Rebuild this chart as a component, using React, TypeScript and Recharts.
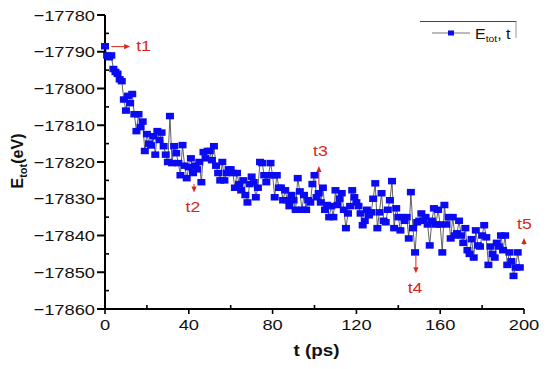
import React from 'react';
import { LineChart, Line, XAxis, YAxis, ReferenceLine, ReferenceDot, Legend } from 'recharts';

const timePs = [
  0, 1, 2, 3, 4, 5, 6, 7, 8, 9,
  10, 11, 12, 13, 14, 15, 16, 17, 18, 19,
  20, 21, 22, 23, 24, 25, 26, 27, 28, 29,
  30, 31, 32, 33, 34, 35, 36, 37, 38, 39,
  40, 41, 42, 43, 44, 45, 46, 47, 48, 49,
  50, 51, 52, 53, 54, 55, 56, 57, 58, 59,
  60, 61, 62, 63, 64, 65, 66, 67, 68, 69,
  70, 71, 72, 73, 74, 75, 76, 77, 78, 79,
  80, 81, 82, 83, 84, 85, 86, 87, 88, 89,
  90, 91, 92, 93, 94, 95, 96, 97, 98, 99,
  100, 101, 102, 103, 104, 105, 106, 107, 108, 109,
  110, 111, 112, 113, 114, 115, 116, 117, 118, 119,
  120, 121, 122, 123, 124, 125, 126, 127, 128, 129,
  130, 131, 132, 133, 134, 135, 136, 137, 138, 139,
  140, 141, 142, 143, 144, 145, 146, 147, 148, 149,
  150, 151, 152, 153, 154, 155, 156, 157, 158, 159,
  160, 161, 162, 163, 164, 165, 166, 167, 168, 169,
  170, 171, 172, 173, 174, 175, 176, 177, 178, 179,
  180, 181, 182, 183, 184, 185, 186, 187, 188, 189,
  190, 191, 192, 193, 194, 195, 196, 197, 198,
];

const totalEnergy = [
  -17788.5, -17791, -17791.5, -17791, -17794.7, -17795.5, -17796, -17797.5, -17798, -17803,
  -17806, -17802, -17804, -17801.5, -17807, -17811.6, -17807, -17810.5, -17809, -17817,
  -17812.4, -17815, -17815.5, -17813, -17818, -17811.6, -17814, -17812, -17815.7, -17818,
  -17820, -17807.5, -17820.3, -17815.7, -17817.6, -17820.3, -17823.6, -17815.4, -17821, -17824.4,
  -17821.4, -17819, -17823, -17821, -17822, -17820, -17825.5, -17817.3, -17819, -17817,
  -17817, -17819.5, -17815.7, -17821, -17823, -17825, -17820, -17825, -17823, -17822,
  -17822, -17823, -17827, -17823, -17826, -17827.7, -17825, -17829, -17831, -17826,
  -17824, -17825.5, -17829.6, -17827, -17820, -17820.3, -17823.6, -17825.5, -17823.6, -17820.3,
  -17823.6, -17829.6, -17823.6, -17827, -17827, -17830.4, -17827.7, -17830.4, -17832, -17829,
  -17830.4, -17833, -17824.4, -17828, -17833, -17829, -17833, -17830.4, -17831, -17826,
  -17823.6, -17829.6, -17828.5, -17831, -17827, -17833, -17831.7, -17835, -17832, -17835,
  -17827.7, -17831.7, -17830, -17828.5, -17833, -17838, -17834, -17832, -17827.7, -17829.6,
  -17831, -17832, -17834, -17837.2, -17836, -17833, -17834.5, -17833.7, -17830, -17825.8,
  -17838, -17833.7, -17828.5, -17836, -17836.4, -17833, -17830.4, -17825.2, -17838, -17832.6,
  -17835, -17838.6, -17835, -17836, -17835, -17840.8, -17828.2, -17838, -17844.6, -17836.4,
  -17836, -17834, -17836, -17835, -17837, -17842.7, -17836, -17832.6, -17837, -17833,
  -17837, -17844.6, -17831.7, -17837, -17835, -17840.8, -17835, -17840, -17839.4, -17836,
  -17840, -17842, -17838, -17844, -17845, -17841, -17846, -17838.6, -17842.7, -17843,
  -17840, -17837.2, -17840.5, -17848, -17843, -17845, -17846, -17842, -17843, -17840,
  -17844, -17840, -17848, -17844.6, -17847, -17851, -17848.7, -17844.6, -17848.7,
];

const xTicks = [0, 20, 40, 60, 80, 100, 120, 140, 160, 180, 200];
const yTicks = [
  -17860, -17855, -17850, -17845, -17840, -17835, -17830, -17825, -17820,
  -17815, -17810, -17805, -17800, -17795, -17790, -17785, -17780,
];

const annotLabel = ['t1', 't2', 't3', 't4', 't5'];
const arrowT0 = [3, 42.5, 102.1, 148.4, 200];
const arrowE0 = [-17788.6, -17826, -17826.3, -17845.5, -17842.6];
const arrowT1 = [12, 42.5, 102.1, 148.4, 200];
const arrowE1 = [-17788.6, -17828.3, -17821.1, -17850.3, -17840.7];
const labelT = [18.4, 42, 102.8, 148, 200.2];
const labelE = [-17789.7, -17833.6, -17818.4, -17855.6, -17838.3];

const data = timePs.map((t, i) => ({ t, e: totalEnergy[i] }));

const RED = '#d9261c';
const BLUE = '#0b0bf2';
const FONT = '"Liberation Sans", Arial, Helvetica, sans-serif';
const SX = 1.18;

const XTick = (props: any) => {
  const { x, y, payload } = props;
  const v = payload.value;
  const ay = y - 5;
  const major = v % 40 === 0;
  return (
    <g>
      {major ? (
        <line x1={x} x2={x} y1={ay} y2={ay + 5} stroke="#000" strokeWidth={1.6} />
      ) : (
        <line x1={x} x2={x} y1={ay} y2={ay - 4} stroke="#000" strokeWidth={1.6} />
      )}
      {major && (
        <text
          transform={`translate(${x},${ay + 21}) scale(${SX},1)`}
          textAnchor="middle"
          fontSize={15.5}
          fontFamily={FONT}
          fill="#111"
        >
          {v}
        </text>
      )}
    </g>
  );
};

const YTick = (props: any) => {
  const { x, y, payload } = props;
  const v = payload.value;
  const ax = x + 10;
  const major = v % 10 === 0;
  return (
    <g>
      {major ? (
        <line x1={ax - 8} x2={ax} y1={y} y2={y} stroke="#000" strokeWidth={2} />
      ) : (
        <line x1={ax} x2={ax + 4} y1={y} y2={y} stroke="#000" strokeWidth={1.6} />
      )}
      {major && (
        <text
          transform={`translate(${ax - 10},${y + 5.6}) scale(${SX},1)`}
          textAnchor="end"
          fontSize={15.5}
          fontFamily={FONT}
          fill="#111"
        >
          {'\u2212' + Math.abs(v)}
        </text>
      )}
    </g>
  );
};

const renderDot = (p: any) => {
  const { cx, cy, index } = p;
  if (cx == null || cy == null) return <g key={index} />;
  return <rect key={index} x={cx - 4} y={cy - 3.25} width={8} height={6.5} fill={BLUE} />;
};

const arrowShape = (p: any) => {
  const { x1, y1, x2, y2 } = p;
  const dx = x2 - x1;
  const dy = y2 - y1;
  const len = Math.hypot(dx, dy) || 1;
  const ux = dx / len;
  const uy = dy / len;
  const hl = Math.min(6, len);
  const hw = 2.6;
  const bx = x2 - ux * hl;
  const by = y2 - uy * hl;
  return (
    <g>
      <line x1={x1} y1={y1} x2={bx} y2={by} stroke={RED} strokeWidth={1} />
      <polygon
        points={`${x2},${y2} ${bx - uy * hw},${by + ux * hw} ${bx + uy * hw},${by - ux * hw}`}
        fill={RED}
      />
    </g>
  );
};

const renderYLabel = (p: any) => {
  const vb = p.viewBox || { x: 0, y: 15, width: 105, height: 294 };
  const cx = vb.x + 23;
  const cy = vb.y + vb.height / 2 - 1;
  return (
    <text
      transform={`translate(${cx},${cy}) rotate(-90)`}
      textAnchor="middle"
      fontSize={16}
      fontWeight="bold"
      fontFamily={FONT}
      fill="#111"
    >
      E<tspan fontSize={11} dy={4}>tot</tspan>
      <tspan dy={-4}>(eV)</tspan>
    </text>
  );
};

const renderXLabel = (p: any) => {
  const vb = p.viewBox || { x: 105, y: 309, width: 419, height: 60 };
  const cx = vb.x + vb.width / 2 + 2;
  const cy = vb.y + 47;
  return (
    <text
      transform={`translate(${cx},${cy}) scale(${SX},1)`}
      textAnchor="middle"
      fontSize={16}
      fontWeight="bold"
      fontFamily={FONT}
      fill="#111"
    >
      t (ps)
    </text>
  );
};

const LegendContent = () => (
  <svg width={104} height={24} style={{ display: 'block', overflow: 'visible' }}>
    <line x1={2} x2={98.5} y1={2.5} y2={2.5} stroke="#444" strokeWidth={1.2} />
    <line x1={98} x2={98} y1={2.5} y2={19} stroke="#999" strokeWidth={1} />
    <line x1={14} x2={52} y1={14} y2={14} stroke="#555" strokeWidth={0.8} />
    <rect x={30} y={11.5} width={6} height={5} fill={BLUE} />
    <text
      transform={`translate(57,20) scale(1.1,1)`}
      fontSize={14.5}
      fontFamily={FONT}
      fill="#111"
    >
      E<tspan fontSize={9.5} dy={3}>tot</tspan>
      <tspan dy={-3}>, t</tspan>
    </text>
  </svg>
);

export default function App() {
  return (
    <div style={{ position: 'absolute', left: 0, top: 0, width: 550, height: 369, background: '#fff' }}>
      <LineChart
        width={550}
        height={369}
        data={data}
        margin={{ top: 15, right: 26, bottom: 0, left: 0 }}
      >
        <XAxis
          dataKey="t"
          type="number"
          domain={[0, 200]}
          ticks={xTicks}
          interval={0}
          tickSize={5}
          tickMargin={0}
          tickLine={false}
          axisLine={{ stroke: '#000', strokeWidth: 2 }}
          tick={<XTick />}
          height={60}
          label={renderXLabel}
        />
        <YAxis
          type="number"
          domain={[-17860, -17780]}
          ticks={yTicks}
          interval={0}
          tickSize={8}
          tickMargin={2}
          tickLine={false}
          axisLine={{ stroke: '#000', strokeWidth: 2 }}
          tick={<YTick />}
          width={105}
          label={renderYLabel}
        />
        <Legend
          layout="horizontal"
          verticalAlign="middle"
          align="center"
          content={<LegendContent />}
          wrapperStyle={{ position: 'absolute', left: 418, top: 19, width: 104, height: 24 }}
        />
        <Line
          dataKey="e"
          type="linear"
          stroke="#3a3a3a"
          strokeWidth={0.8}
          dot={renderDot}
          activeDot={false}
          isAnimationActive={false}
        />
        {annotLabel.map((lab, i) => (
          <ReferenceLine
            key={'a' + lab}
            segment={[
              { x: arrowT0[i], y: arrowE0[i] },
              { x: arrowT1[i], y: arrowE1[i] },
            ]}
            ifOverflow="visible"
            shape={arrowShape}
          />
        ))}
        {annotLabel.map((lab, i) => (
          <ReferenceDot
            key={'l' + lab}
            x={labelT[i]}
            y={labelE[i]}
            r={1}
            ifOverflow="visible"
            shape={(p: any) => (
              <text
                transform={`translate(${p.cx},${p.cy}) scale(${SX},1)`}
                textAnchor="middle"
                fontSize={15}
                fontFamily={FONT}
                fill={RED}
              >
                {lab}
              </text>
            )}
          />
        ))}
      </LineChart>
    </div>
  );
}
